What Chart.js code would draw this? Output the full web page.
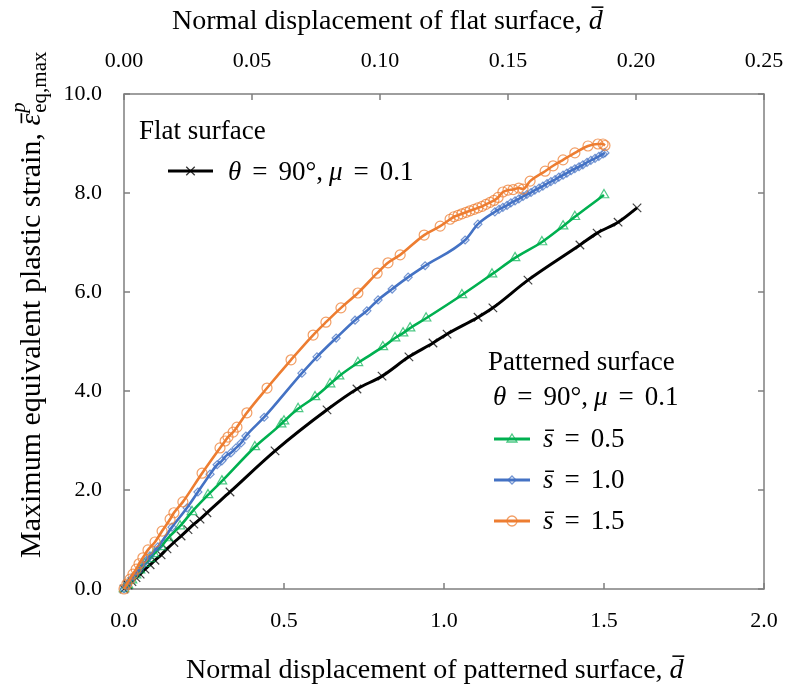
<!DOCTYPE html>
<html lang="en">
<head>
<meta charset="UTF-8">
<title>Maximum equivalent plastic strain vs normal displacement</title>
<style>
    body { margin: 0; background: #fff; }
    #wrap { width: 790px; height: 694px; }
</style>
</head>
<body>
<div id="wrap"><canvas id="strainChart" width="790" height="694"></canvas></div>

<script src="https://cdn.jsdelivr.net/npm/chart.js"></script>
<script>
    // flat surface, theta = 90, mu = 0.1 (plotted against the top axis)
    const flatD = [0, 0.0016, 0.0031, 0.0047, 0.0063, 0.0082, 0.0102, 0.0121, 0.0145, 0.0168,
        0.0195, 0.0223, 0.0250, 0.0273, 0.0297, 0.0324, 0.0414, 0.0590, 0.0793, 0.0910,
        0.1008, 0.1113, 0.1207, 0.1262, 0.1383, 0.1441, 0.1578, 0.1781, 0.1848, 0.1930, 0.2004];
    const flatStrain = [0, 0.08, 0.15, 0.23, 0.30, 0.40, 0.49, 0.58, 0.69, 0.81,
        0.94, 1.07, 1.20, 1.31, 1.41, 1.54, 1.96, 2.79, 3.62, 4.04,
        4.30, 4.69, 4.97, 5.15, 5.49, 5.68, 6.24, 6.95, 7.19, 7.41, 7.70];

    // patterned surface, s = 0.5
    const s05D = [0, 0.0125, 0.025, 0.0375, 0.05, 0.0656, 0.0813, 0.0938, 0.1156, 0.1375,
        0.175, 0.2125, 0.2625, 0.306, 0.409, 0.491, 0.5, 0.544, 0.597, 0.644,
        0.672, 0.731, 0.809, 0.847, 0.872, 0.894, 0.944, 1.056, 1.15, 1.222,
        1.306, 1.372, 1.409, 1.5];
    const s05Strain = [0, 0.08, 0.18, 0.28, 0.38, 0.51, 0.61, 0.71, 0.85, 1.03,
        1.27, 1.56, 1.90, 2.18, 2.87, 3.33, 3.39, 3.64, 3.88, 4.14,
        4.30, 4.57, 4.89, 5.07, 5.17, 5.27, 5.47, 5.94, 6.36, 6.69,
        7.01, 7.33, 7.52, 7.96];

    // patterned surface, s = 1.0
    const s10D = [0, 0.009, 0.019, 0.031, 0.044, 0.056, 0.069, 0.081, 0.106, 0.15,
        0.197, 0.231, 0.269, 0.291, 0.306, 0.319, 0.334, 0.35, 0.366, 0.381,
        0.438, 0.556, 0.603, 0.663, 0.722, 0.759, 0.794, 0.838, 0.888, 0.941,
        1.066, 1.106, 1.159, 1.172, 1.184, 1.197, 1.209, 1.222, 1.234, 1.247,
        1.259, 1.272, 1.284, 1.297, 1.309, 1.322, 1.334, 1.347, 1.359, 1.372,
        1.384, 1.397, 1.409, 1.422, 1.434, 1.447, 1.459, 1.472, 1.484, 1.497, 1.503];
    const s10Strain = [0, 0.08, 0.16, 0.26, 0.36, 0.46, 0.57, 0.67, 0.85, 1.25,
        1.64, 1.96, 2.32, 2.51, 2.59, 2.69, 2.75, 2.85, 2.95, 3.09,
        3.47, 4.36, 4.69, 5.07, 5.43, 5.62, 5.84, 6.06, 6.30, 6.53,
        7.05, 7.37, 7.62, 7.67, 7.71, 7.75, 7.80, 7.84, 7.88, 7.93,
        7.97, 8.01, 8.06, 8.10, 8.14, 8.19, 8.23, 8.27, 8.32, 8.36,
        8.40, 8.45, 8.49, 8.53, 8.57, 8.62, 8.66, 8.70, 8.74, 8.79, 8.81];

    // patterned surface, s = 1.5
    const s15D = [0, 0.009, 0.019, 0.028, 0.038, 0.047, 0.059, 0.075, 0.097, 0.119,
        0.144, 0.156, 0.184, 0.244, 0.3, 0.316, 0.325, 0.341, 0.353, 0.384,
        0.447, 0.522, 0.591, 0.631, 0.678, 0.731, 0.791, 0.825, 0.863, 0.938,
        0.988, 1.019, 1.031, 1.044, 1.056, 1.069, 1.081, 1.094, 1.106, 1.119,
        1.131, 1.144, 1.156, 1.169, 1.184, 1.2, 1.216, 1.234, 1.247, 1.269,
        1.316, 1.341, 1.372, 1.409, 1.45, 1.481, 1.497, 1.503];
    const s15Strain = [0, 0.10, 0.20, 0.30, 0.40, 0.51, 0.63, 0.79, 0.95, 1.17,
        1.41, 1.54, 1.76, 2.34, 2.85, 2.99, 3.07, 3.17, 3.27, 3.56,
        4.06, 4.63, 5.13, 5.39, 5.68, 5.98, 6.38, 6.59, 6.75, 7.15,
        7.33, 7.47, 7.52, 7.55, 7.58, 7.61, 7.64, 7.67, 7.70, 7.73,
        7.77, 7.81, 7.85, 7.91, 8.02, 8.06, 8.07, 8.10, 8.08, 8.24,
        8.44, 8.55, 8.67, 8.81, 8.95, 8.99, 8.99, 8.96];

    const bottomTicks = ['0.0', '0.5', '1.0', '1.5', '2.0'];
    const topTicks = ['0.00', '0.05', '0.10', '0.15', '0.20', '0.25'];
    const yTicks = ['0.0', '2.0', '4.0', '6.0', '8.0', '10.0'];

    const SERIF = "'Liberation Serif', 'Times New Roman', serif";
    const GREEN = '#00B050', BLUE = '#4472C4', ORANGE = '#ED7D31';

    function pairs(xs, ys) {
        return xs.map((x, i) => ({ x: x, y: ys[i] }));
    }

    // draws a row of text pieces, some italic / smaller / shifted / with an overbar
    function drawRuns(ctx, x, y, runs) {
        runs.forEach(r => {
            const size = r.size;
            ctx.font = (r.italic ? 'italic ' : '') + size + 'px ' + SERIF;
            const w = ctx.measureText(r.t).width;
            ctx.fillText(r.t, x, y + (r.dy || 0));
            if (r.bar) {
                const by = y + (r.dy || 0) - size * (r.barH || 0.78);
                ctx.beginPath();
                ctx.lineWidth = Math.max(1, size * 0.055);
                ctx.moveTo(x + w * 0.2, by);
                ctx.lineTo(x + w * 1.05, by);
                ctx.stroke();
            }
            if (!r.noAdvance) x += w + (r.gap || 0);
        });
        return x;
    }

    function drawMarker(ctx, style, x, y, r, color) {
        ctx.save();
        ctx.strokeStyle = color;
        ctx.lineWidth = 1.3;
        ctx.beginPath();
        if (style === 'circle') {
            ctx.arc(x, y, r, 0, Math.PI * 2);
        } else if (style === 'triangle') {
            ctx.moveTo(x, y - r);
            ctx.lineTo(x + r, y + r * 0.6);
            ctx.lineTo(x - r, y + r * 0.6);
            ctx.closePath();
        } else if (style === 'rectRot') {
            ctx.moveTo(x, y - r); ctx.lineTo(x + r, y); ctx.lineTo(x, y + r); ctx.lineTo(x - r, y);
            ctx.closePath();
        } else if (style === 'crossRot') {
            const d = r * 0.707;
            ctx.moveTo(x - d, y - d); ctx.lineTo(x + d, y + d);
            ctx.moveTo(x + d, y - d); ctx.lineTo(x - d, y + d);
        }
        ctx.stroke();
        ctx.restore();
    }

    function legendSample(ctx, x1, x2, y, color, lw, style, r, mcolor) {
        ctx.save();
        ctx.strokeStyle = color;
        ctx.lineWidth = lw;
        ctx.beginPath();
        ctx.moveTo(x1, y);
        ctx.lineTo(x2, y);
        ctx.stroke();
        ctx.restore();
        drawMarker(ctx, style, (x1 + x2) / 2, y, r, mcolor);
    }

    const thetaMu = size => [
        { t: 'θ', italic: true, size: size, gap: 11 },
        { t: '=', size: size, gap: 11 },
        { t: '90°,', size: size, gap: 6 },
        { t: 'μ', italic: true, size: size, gap: 11 },
        { t: '=', size: size, gap: 11 },
        { t: '0.1', size: size }
    ];

    const framePlugin = {
        id: 'frame',
        beforeDatasetsDraw(chart) {
            const { ctx, chartArea: a, scales } = chart;
            ctx.save();
            ctx.strokeStyle = '#7f7f7f';
            ctx.lineWidth = 1.5;
            ctx.strokeRect(a.left, a.top, a.right - a.left, a.bottom - a.top);
            ctx.beginPath();
            scales.x.ticks.forEach(t => {
                const px = scales.x.getPixelForValue(t.value);
                ctx.moveTo(px, a.bottom); ctx.lineTo(px, a.bottom - 6);
            });
            scales.x2.ticks.forEach(t => {
                const px = scales.x2.getPixelForValue(t.value);
                ctx.moveTo(px, a.top); ctx.lineTo(px, a.top + 6);
            });
            scales.y.ticks.forEach(t => {
                const py = scales.y.getPixelForValue(t.value);
                ctx.moveTo(a.left, py); ctx.lineTo(a.left + 6, py);
                ctx.moveTo(a.right, py); ctx.lineTo(a.right - 6, py);
            });
            ctx.stroke();
            ctx.restore();
        },
        afterDraw(chart) {
            const ctx = chart.ctx;
            ctx.save();
            ctx.fillStyle = '#000';
            ctx.strokeStyle = '#000';
            ctx.textBaseline = 'alphabetic';
            ctx.textAlign = 'left';

            // axis titles
            drawRuns(ctx, 172, 29, [
                { t: 'Normal displacement of flat surface, ', size: 28 },
                { t: 'd', italic: true, size: 28, bar: true }
            ]);
            drawRuns(ctx, 186, 678, [
                { t: 'Normal displacement of patterned surface, ', size: 28 },
                { t: 'd', italic: true, size: 28, bar: true }
            ]);

            ctx.save();
            ctx.translate(40, 558);
            ctx.rotate(-Math.PI / 2);
            let ex = drawRuns(ctx, 0, 0, [
                { t: 'Maximum equivalent plastic strain, ', size: 30 },
                { t: 'ε', italic: true, size: 30, bar: true, barH: 0.62 }
            ]);
            drawRuns(ctx, ex + 1, 0, [{ t: 'p', italic: true, size: 21, dy: -15, noAdvance: true }]);
            drawRuns(ctx, ex + 1, 0, [{ t: 'eq,max', size: 21, dy: 6 }]);
            ctx.restore();

            // flat surface legend
            drawRuns(ctx, 139, 139, [{ t: 'Flat surface', size: 27 }]);
            legendSample(ctx, 168, 213, 171, '#000', 3, 'crossRot', 6, 'rgba(0,0,0,0.8)');
            drawRuns(ctx, 228, 180, thetaMu(27));

            // patterned surface legend
            drawRuns(ctx, 488, 370, [{ t: 'Patterned surface', size: 27 }]);
            drawRuns(ctx, 493, 405, thetaMu(27));
            const rows = [
                { y: 439, c: GREEN, m: 'triangle', r: 5, mc: 'rgba(0,176,80,0.7)', v: '0.5' },
                { y: 480, c: BLUE, m: 'rectRot', r: 4, mc: 'rgba(68,114,196,0.75)', v: '1.0' },
                { y: 521, c: ORANGE, m: 'circle', r: 5, mc: 'rgba(237,125,49,0.75)', v: '1.5' }
            ];
            rows.forEach(row => {
                legendSample(ctx, 494, 530, row.y, row.c, 3, row.m, row.r, row.mc);
                drawRuns(ctx, 543, row.y + 8, [
                    { t: 's', italic: true, size: 27, bar: true, barH: 0.62, gap: 11 },
                    { t: '=', size: 27, gap: 11 },
                    { t: row.v, size: 27 }
                ]);
            });
            ctx.restore();
        }
    };

    const tickFont = { family: SERIF, size: 22 };
    const noSidePad = s => { s.paddingLeft = 0; s.paddingRight = 0; s.paddingTop = 0; s.paddingBottom = 0; };

    new Chart(document.getElementById('strainChart'), {
        type: 'scatter',
        data: {
            datasets: [
                {
                    label: 's = 1.5',
                    data: pairs(s15D, s15Strain),
                    xAxisID: 'x', yAxisID: 'y',
                    showLine: true,
                    borderColor: ORANGE, borderWidth: 2.6,
                    pointStyle: 'circle', pointRadius: 5,
                    pointBorderColor: 'rgba(237,125,49,0.75)', pointBorderWidth: 1.2,
                    pointBackgroundColor: 'rgba(255,255,255,0)',
                    cubicInterpolationMode: 'monotone', clip: false
                },
                {
                    label: 's = 1.0',
                    data: pairs(s10D, s10Strain),
                    xAxisID: 'x', yAxisID: 'y',
                    showLine: true,
                    borderColor: BLUE, borderWidth: 2.6,
                    pointStyle: 'rectRot', pointRadius: 4,
                    pointBorderColor: 'rgba(68,114,196,0.75)', pointBorderWidth: 1.2,
                    pointBackgroundColor: 'rgba(255,255,255,0)',
                    cubicInterpolationMode: 'monotone', clip: false
                },
                {
                    label: 's = 0.5',
                    data: pairs(s05D, s05Strain),
                    xAxisID: 'x', yAxisID: 'y',
                    showLine: true,
                    borderColor: GREEN, borderWidth: 2.6,
                    pointStyle: 'triangle', pointRadius: 5.5,
                    pointBorderColor: 'rgba(0,176,80,0.7)', pointBorderWidth: 1.2,
                    pointBackgroundColor: 'rgba(255,255,255,0)',
                    cubicInterpolationMode: 'monotone', clip: false
                },
                {
                    label: 'Flat surface',
                    data: pairs(flatD, flatStrain),
                    xAxisID: 'x2', yAxisID: 'y',
                    showLine: true,
                    borderColor: '#000', borderWidth: 3,
                    pointStyle: 'crossRot', pointRadius: 6,
                    pointBorderColor: 'rgba(0,0,0,0.75)', pointBorderWidth: 1.2,
                    cubicInterpolationMode: 'monotone', clip: false
                }
            ]
        },
        options: {
            responsive: false,
            animation: false,
            layout: { padding: { left: 0, right: 26, top: 0, bottom: 0 } },
            plugins: { legend: { display: false }, tooltip: { enabled: false } },
            scales: {
                x: {
                    type: 'linear', position: 'bottom', min: 0, max: 2,
                    afterBuildTicks: s => { s.ticks = bottomTicks.map(t => ({ value: parseFloat(t) })); },
                    afterFit: s => { s.height = 105; noSidePad(s); },
                    ticks: { callback: (v, i) => bottomTicks[i], font: tickFont, color: '#000', padding: 19, maxRotation: 0 },
                    grid: { display: false, drawTicks: false },
                    border: { display: false }
                },
                x2: {
                    type: 'linear', position: 'top', min: 0, max: 0.25,
                    afterBuildTicks: s => { s.ticks = topTicks.map(t => ({ value: parseFloat(t) })); },
                    afterFit: s => { s.height = 94; noSidePad(s); },
                    ticks: { callback: (v, i) => topTicks[i], font: tickFont, color: '#000', padding: 20, maxRotation: 0 },
                    grid: { display: false, drawTicks: false },
                    border: { display: false }
                },
                y: {
                    type: 'linear', position: 'left', min: 0, max: 10,
                    afterBuildTicks: s => { s.ticks = yTicks.map(t => ({ value: parseFloat(t) })); },
                    afterFit: s => { s.width = 124; noSidePad(s); },
                    ticks: { callback: (v, i) => yTicks[i], font: tickFont, color: '#000', padding: 22 },
                    grid: { display: false, drawTicks: false },
                    border: { display: false }
                }
            }
        },
        plugins: [framePlugin]
    });
</script>
</body>
</html>
